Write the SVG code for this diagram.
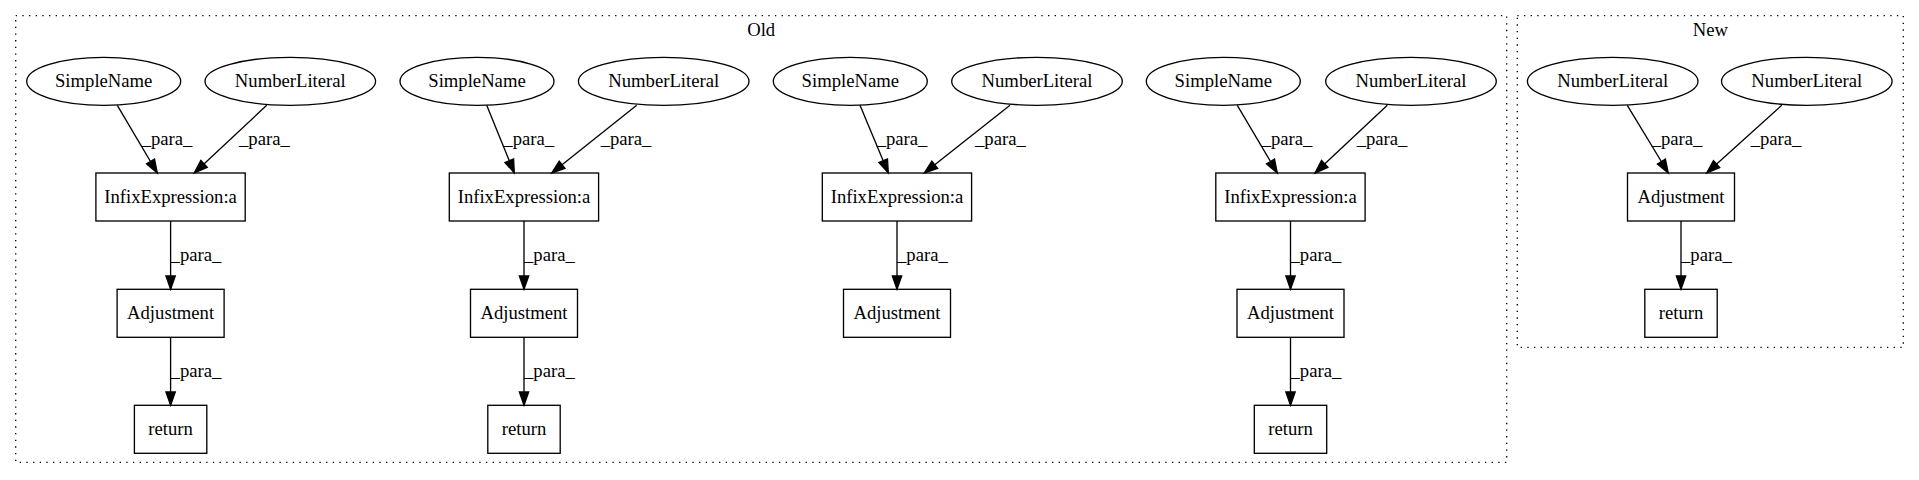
<svg xmlns="http://www.w3.org/2000/svg" width="1919" height="480" viewBox="0 0 1919 480">
<style>
  text { font-family: "Liberation Serif", "Times New Roman", serif; font-size: 18.67px; fill: #000; }
  .n { text-anchor: middle; }
  .node ellipse, .node rect { fill: none; stroke: #000; stroke-width: 1.33; }
  .cluster { fill: none; stroke: #000; stroke-width: 1.33; stroke-dasharray: 1.33 5.33; }
  .edge line { stroke: #000; stroke-width: 1.33; marker-end: url(#arr); }
</style>
<defs>
  <marker id="arr" markerUnits="userSpaceOnUse" markerWidth="16" markerHeight="12" refX="13.33" refY="4.67" orient="auto" overflow="visible">
    <path d="M0,0 L13.33,4.67 L0,9.33 Z" fill="#000" stroke="#000" stroke-width="1.33"/>
  </marker>
</defs>
<rect width="1919" height="480" fill="#fff"/>

<g id="cluster_old">
  <rect class="cluster" x="15.7" y="15.7" width="1491" height="446.6"/>
  <text class="n" x="761.2" y="35.5">Old</text>
</g>
<g id="cluster_new">
  <rect class="cluster" x="1517.3" y="15.7" width="386" height="331.6"/>
  <text class="n" x="1710.3" y="35.5">New</text>
</g>

<g id="edges" class="edge">
  <line x1="117.3" y1="105.3" x2="157.3" y2="173"/>
  <line x1="266.7" y1="105.3" x2="194.3" y2="173"/>
  <line x1="170.6" y1="221" x2="170.6" y2="289.3"/>
  <line x1="170.6" y1="337.3" x2="170.6" y2="405.3"/>

  <line x1="486.7" y1="105.3" x2="514.3" y2="173"/>
  <line x1="636.7" y1="105.3" x2="551.7" y2="173"/>
  <line x1="524" y1="221" x2="524" y2="289.3"/>
  <line x1="524" y1="337.3" x2="524" y2="405.3"/>

  <line x1="860" y1="105.3" x2="888.3" y2="173"/>
  <line x1="1010" y1="105.3" x2="924.3" y2="173"/>
  <line x1="897" y1="221" x2="897" y2="289.3"/>

  <line x1="1237.3" y1="105.3" x2="1277.3" y2="173"/>
  <line x1="1387.3" y1="105.3" x2="1315" y2="173"/>
  <line x1="1290.5" y1="221" x2="1290.5" y2="289.3"/>
  <line x1="1290.5" y1="337.3" x2="1290.5" y2="405.3"/>

  <line x1="1627.3" y1="105.3" x2="1668.3" y2="173"/>
  <line x1="1781.7" y1="105.3" x2="1706.7" y2="173"/>
  <line x1="1681" y1="221" x2="1681" y2="289.3"/>

  <text x="141.7" y="144.7">_para_</text>
  <text x="239" y="144.7">_para_</text>
  <text x="170.6" y="260.7">_para_</text>
  <text x="170.6" y="377">_para_</text>

  <text x="503.3" y="144.7">_para_</text>
  <text x="600.7" y="144.7">_para_</text>
  <text x="524" y="260.7">_para_</text>
  <text x="524" y="377">_para_</text>

  <text x="876.7" y="144.7">_para_</text>
  <text x="975" y="144.7">_para_</text>
  <text x="897" y="260.7">_para_</text>

  <text x="1261.7" y="144.7">_para_</text>
  <text x="1356.7" y="144.7">_para_</text>
  <text x="1290.5" y="260.7">_para_</text>
  <text x="1290.5" y="377">_para_</text>

  <text x="1651.7" y="144.7">_para_</text>
  <text x="1750.7" y="144.7">_para_</text>
  <text x="1681" y="260.7">_para_</text>
</g>

<!-- Old group 1 -->
<g id="sn1" class="node"><ellipse cx="103.7" cy="81.3" rx="77" ry="24"/><text class="n" x="103.7" y="87.3">SimpleName</text></g>
<g id="nl1" class="node"><ellipse cx="290.3" cy="81.3" rx="85.3" ry="24"/><text class="n" x="290.3" y="87.3">NumberLiteral</text></g>
<g id="infix1" class="node"><rect x="95.9" y="173" width="149.3" height="48"/><text class="n" x="170.6" y="203">InfixExpression:a</text></g>
<g id="adj1" class="node"><rect x="117.1" y="289.3" width="107" height="48"/><text class="n" x="170.6" y="319.3">Adjustment</text></g>
<g id="ret1" class="node"><rect x="134.4" y="405.3" width="72.4" height="48"/><text class="n" x="170.6" y="435.3">return</text></g>

<!-- Old group 2 -->
<g id="sn2" class="node"><ellipse cx="477" cy="81.3" rx="77" ry="24"/><text class="n" x="477" y="87.3">SimpleName</text></g>
<g id="nl2" class="node"><ellipse cx="663.7" cy="81.3" rx="85.3" ry="24"/><text class="n" x="663.7" y="87.3">NumberLiteral</text></g>
<g id="infix2" class="node"><rect x="449.3" y="173" width="149.3" height="48"/><text class="n" x="524" y="203">InfixExpression:a</text></g>
<g id="adj2" class="node"><rect x="470.5" y="289.3" width="107" height="48"/><text class="n" x="524" y="319.3">Adjustment</text></g>
<g id="ret2" class="node"><rect x="487.8" y="405.3" width="72.4" height="48"/><text class="n" x="524" y="435.3">return</text></g>

<!-- Old group 3 -->
<g id="sn3" class="node"><ellipse cx="850.3" cy="81.3" rx="77" ry="24"/><text class="n" x="850.3" y="87.3">SimpleName</text></g>
<g id="nl3" class="node"><ellipse cx="1037" cy="81.3" rx="85.3" ry="24"/><text class="n" x="1037" y="87.3">NumberLiteral</text></g>
<g id="infix3" class="node"><rect x="822.3" y="173" width="149.3" height="48"/><text class="n" x="897" y="203">InfixExpression:a</text></g>
<g id="adj3" class="node"><rect x="843.5" y="289.3" width="107" height="48"/><text class="n" x="897" y="319.3">Adjustment</text></g>

<!-- Old group 4 -->
<g id="sn4" class="node"><ellipse cx="1223.3" cy="81.3" rx="77" ry="24"/><text class="n" x="1223.3" y="87.3">SimpleName</text></g>
<g id="nl4" class="node"><ellipse cx="1411" cy="81.3" rx="85.3" ry="24"/><text class="n" x="1411" y="87.3">NumberLiteral</text></g>
<g id="infix4" class="node"><rect x="1215.8" y="173" width="149.3" height="48"/><text class="n" x="1290.5" y="203">InfixExpression:a</text></g>
<g id="adj4" class="node"><rect x="1237" y="289.3" width="107" height="48"/><text class="n" x="1290.5" y="319.3">Adjustment</text></g>
<g id="ret4" class="node"><rect x="1254.3" y="405.3" width="72.4" height="48"/><text class="n" x="1290.5" y="435.3">return</text></g>

<!-- New -->
<g id="nnl1" class="node"><ellipse cx="1612.7" cy="81.3" rx="85.3" ry="24"/><text class="n" x="1612.7" y="87.3">NumberLiteral</text></g>
<g id="nnl2" class="node"><ellipse cx="1806.8" cy="81.3" rx="85.3" ry="24"/><text class="n" x="1806.8" y="87.3">NumberLiteral</text></g>
<g id="nadj" class="node"><rect x="1627.5" y="173" width="107" height="48"/><text class="n" x="1681" y="203">Adjustment</text></g>
<g id="nret" class="node"><rect x="1644.8" y="289.3" width="72.4" height="48"/><text class="n" x="1681" y="319.3">return</text></g>
</svg>
